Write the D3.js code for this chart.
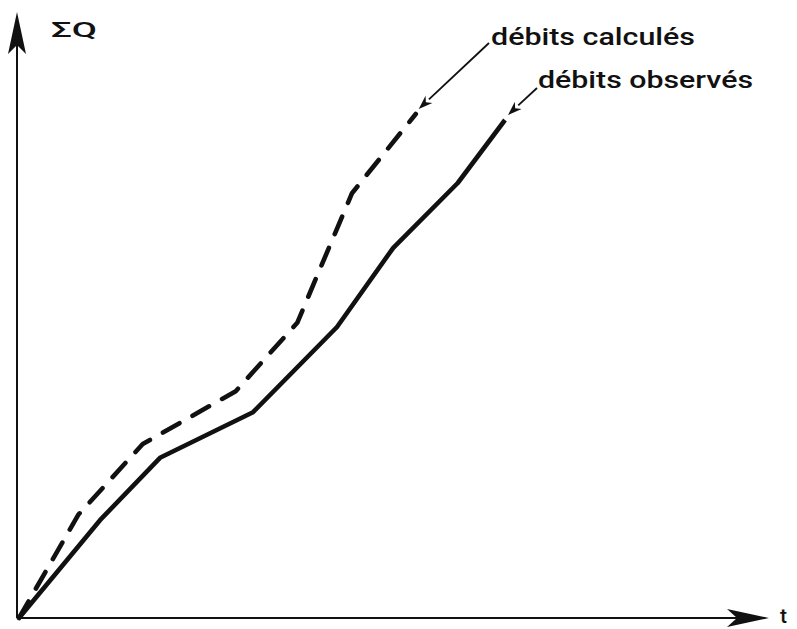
<!DOCTYPE html>
<html><head><meta charset="utf-8">
<script src="https://cdn.jsdelivr.net/npm/d3@7"></script>
<style>html,body{margin:0;padding:0;background:#fff;}svg{display:block;}</style>
</head><body>
<svg id="chart" width="797" height="629"></svg>
<script>
// Data (arbitrary units: t along x, cumulative discharge ΣQ along y)
const tObserved = [0, 1.08, 1.88, 3.12, 4.24, 4.99, 5.85, 6.48];
const qObserved = [0, 1.63, 2.67, 3.43, 4.85, 6.17, 7.25, 8.30];
const tCalculated = [0, 0.79, 1.65, 2.89, 3.71, 4.44, 5.29];
const qCalculated = [0, 1.72, 2.90, 3.78, 4.92, 7.08, 8.40];
const seriesLabels = ["débits calculés", "débits observés"];
const axisLabels = {x: "t", y: "ΣQ"};

const svg = d3.select("#chart");
const x = d3.scaleLinear().domain([0, 10]).range([19, 769]);
const y = d3.scaleLinear().domain([0, 10]).range([618, 18]);
const font = "Roboto, 'Liberation Sans', Arial, sans-serif";

// Axes
svg.append("line").attr("x1", x(0) - 2).attr("y1", y(0)).attr("x2", x(9.95)).attr("y2", y(0))
  .attr("stroke", "#111").attr("stroke-width", 2);
svg.append("line").attr("x1", x(0) - 2).attr("y1", y(0)).attr("x2", x(0) - 2).attr("y2", y(9.95))
  .attr("stroke", "#111").attr("stroke-width", 2);

// Arrowheads on axes (notched)
const xt = x(10), yt = y(0);
svg.append("path")
  .attr("d", `M${xt},${yt} L${xt-42},${yt-9} L${xt-32},${yt} L${xt-42},${yt+9} Z`)
  .attr("fill", "#111");
const ax = x(0) - 2, ay = y(10.1);
svg.append("path")
  .attr("d", `M${ax},${ay} L${ax-9},${ay+42} L${ax},${ay+33} L${ax+9},${ay+42} Z`)
  .attr("fill", "#111");

// Axis labels
svg.append("text").attr("x", 780).attr("y", 623).text(axisLabels.x)
  .attr("font-family", font).attr("font-weight", 500).attr("font-size", 21).attr("fill", "#111");
svg.append("text").attr("x", 51).attr("y", 37).text(axisLabels.y)
  .attr("font-family", font).attr("font-weight", 500).attr("font-size", 21).attr("fill", "#111")
  .attr("textLength", 46).attr("lengthAdjust", "spacingAndGlyphs");

// Lines
const line = d3.line().x(d => x(d[0])).y(d => y(d[1]));
const obs = tObserved.map((t, i) => [t, qObserved[i]]);
const calc = tCalculated.map((t, i) => [t, qCalculated[i]]);

svg.append("path").datum(calc).attr("d", line)
  .attr("fill", "none").attr("stroke", "#111").attr("stroke-width", 4.6)
  .attr("stroke-dasharray", "19,15").attr("stroke-linecap", "round").attr("stroke-linejoin", "round");
svg.append("path").datum(obs).attr("d", line)
  .attr("fill", "none").attr("stroke", "#111").attr("stroke-width", 4.6)
  .attr("stroke-linecap", "butt").attr("stroke-linejoin", "round");

// Annotation labels + arrows
function annot(label, tx, ty, w, fromX, fromY, end) {
  svg.append("text").attr("x", tx).attr("y", ty).text(label)
    .attr("font-family", font).attr("font-size", 23).attr("font-weight", 500).attr("fill", "#111")
    .attr("textLength", w).attr("lengthAdjust", "spacingAndGlyphs");
  const ex = x(end[0]) + 3, ey = y(end[1]) - 5;
  const ang = Math.atan2(ey - fromY, ex - fromX);
  const hl = 14, hw = 5;
  const bx = ex - hl * Math.cos(ang), by = ey - hl * Math.sin(ang);
  svg.append("line").attr("x1", fromX).attr("y1", fromY).attr("x2", bx).attr("y2", by)
    .attr("stroke", "#111").attr("stroke-width", 1.8);
  const px = -Math.sin(ang), py = Math.cos(ang);
  svg.append("path")
    .attr("d", `M${ex},${ey} L${bx + px*hw},${by + py*hw} L${bx + 0.3*hl*Math.cos(ang)},${by + 0.3*hl*Math.sin(ang)} L${bx - px*hw},${by - py*hw} Z`)
    .attr("fill", "#111");
}
annot(seriesLabels[0], 491, 45, 204, 489, 43, calc[calc.length - 1]);
annot(seriesLabels[1], 538, 88, 215, 537, 88, obs[obs.length - 1]);
</script>
</body></html>
